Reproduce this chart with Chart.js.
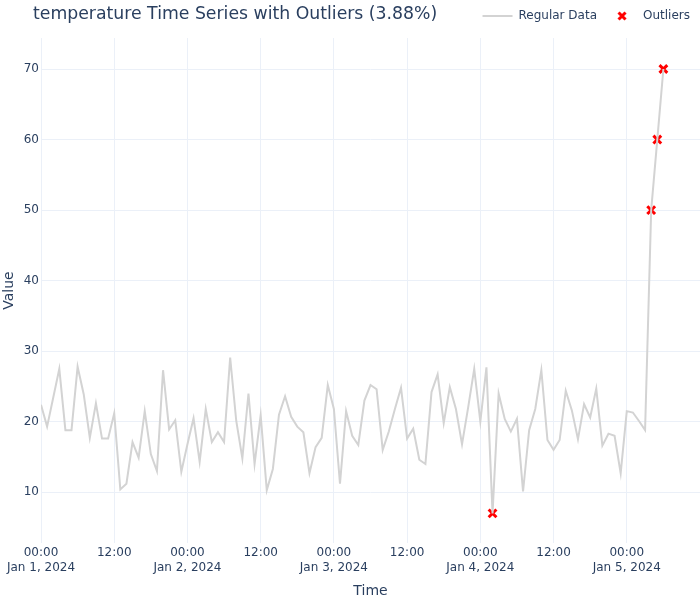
<!DOCTYPE html>
<html>
<head>
<meta charset="utf-8">
<script src="https://cdn.jsdelivr.net/npm/chart.js@4.4.1/dist/chart.umd.min.js"></script>
<style>
  body { margin: 0; background: #fff; }
  canvas { display: block; }
</style>
</head>
<body>
<canvas id="myChart" width="700" height="600"></canvas>
<script>
// hourly readings starting Jan 1, 2024 00:00
const titleText = 'temperature Time Series with Outliers (3.88%)';
const temperature = [
  22.4, 19.3, 23.4, 27.5, 18.8, 18.8, 27.8, 23.9, 17.7, 22.6, 17.6, 17.6,
  21.2, 10.4, 11.2, 17.1, 14.9, 21.5, 15.4, 13.0, 27.3, 18.9, 20.2, 12.9,
  16.8, 20.5, 14.3, 21.8, 17.1, 18.5, 17.1, 29.1, 20.1, 14.8, 24.0, 14.0,
  20.9, 10.3, 13.3, 21.0, 23.6, 20.7, 19.3, 18.5, 12.7, 16.4, 17.7, 25.2,
  21.8, 11.2, 21.5, 18.0, 16.7, 23.0, 25.2, 24.6, 16.0, 18.6, 21.8, 24.8,
  17.6, 19.0, 14.6, 14.0, 24.2, 26.7, 19.8, 24.9, 21.8, 16.8, 22.0, 27.5,
  20.0, 27.7, 7.0, 24.0, 20.4, 18.6, 20.4, 10.1, 18.8, 21.8, 27.3, 17.4,
  16.0, 17.4, 24.4, 21.6, 17.5, 22.5, 20.6, 24.7, 16.6, 18.3, 18.0, 12.7,
  21.5, 21.3, 20.1, 18.8, 50, 60, 70
];
const outlierHours = [74, 100, 101, 102];
const outlierValues = [7, 50, 60, 70];

const xTickHours = [0, 12, 24, 36, 48, 60, 72, 84, 96];
const xTickLabels = [
  ['00:00', 'Jan 1, 2024'], '12:00',
  ['00:00', 'Jan 2, 2024'], '12:00',
  ['00:00', 'Jan 3, 2024'], '12:00',
  ['00:00', 'Jan 4, 2024'], '12:00',
  ['00:00', 'Jan 5, 2024']
];
const yTicks = [10, 20, 30, 40, 50, 60, 70];

const textColor = '#2a3f5f';
const gridColor = '#ebf0f8';
const fontFamily = '"DejaVu Sans", Verdana, sans-serif';

Chart.defaults.font.family = fontFamily;
Chart.defaults.color = textColor;

// legend symbol for the outliers
function crossImage(w, h, size, lw) {
  const c = document.createElement('canvas');
  c.width = w; c.height = h;
  const g = c.getContext('2d');
  const cx = w / 2, cy = h / 2, r = size / 2;
  g.strokeStyle = 'red';
  g.lineWidth = lw;
  g.beginPath();
  g.moveTo(cx - r, cy - r); g.lineTo(cx + r, cy + r);
  g.moveTo(cx + r, cy - r); g.lineTo(cx - r, cy + r);
  g.stroke();
  return c;
}
const crossIcon = crossImage(30, 14, 7, 3);

const titlePlugin = {
  id: 'plotTitle',
  beforeUpdate(chart) {
    // push the plot area a bit lower than the legend alone would
    const lg = chart.legend;
    if (lg && !lg._extra) {
      const fit = lg.fit;
      lg.fit = function () { fit.call(this); this.height += 6; };
      lg._extra = true;
    }
  },
  afterDraw(chart) {
    const c = chart.ctx;
    c.save();
    c.font = '17.3px ' + fontFamily;
    c.fillStyle = textColor;
    c.textBaseline = 'middle';
    c.textAlign = 'left';
    c.fillText(titleText, 33, 15);
    c.restore();
  }
};

const ctx = document.getElementById('myChart').getContext('2d');
const chart = new Chart(ctx, {
  type: 'scatter',
  data: {
    datasets: [{
      label: 'Regular Data',
      data: temperature.map((v, i) => ({ x: i, y: v })),
      showLine: true,
      borderColor: '#d3d3d3',
      backgroundColor: '#d3d3d3',
      borderWidth: 2,
      pointRadius: 0,
      pointHoverRadius: 0,
      tension: 0
    }, {
      label: 'Outliers',
      data: outlierHours.map((h, i) => ({ x: h, y: outlierValues[i] })),
      showLine: false,
      pointStyle: 'crossRot',
      pointRadius: 5.5,
      borderColor: 'red',
      backgroundColor: 'red',
      borderWidth: 3
    }]
  },
  options: {
    responsive: false,
    animation: false,
    layout: { padding: 0, autoPadding: false },
    plugins: {
      title: { display: false },
      tooltip: { enabled: false },
      legend: {
        display: true,
        position: 'top',
        align: 'end',
        labels: {
          usePointStyle: true,
          pointStyleWidth: 30,
          padding: 10,
          color: textColor,
          font: { size: 12 },
          generateLabels() {
            return [{
              text: 'Regular Data', pointStyle: 'line', strokeStyle: '#d3d3d3',
              fillStyle: '#d3d3d3', lineWidth: 2, datasetIndex: 0, fontColor: textColor
            }, {
              text: 'Outliers', pointStyle: crossIcon, strokeStyle: 'red',
              fillStyle: 'red', lineWidth: 0, datasetIndex: 1, fontColor: textColor
            }];
          }
        }
      }
    },
    scales: {
      x: {
        type: 'linear',
        min: 0,
        max: 108,
        afterBuildTicks(scale) { scale.ticks = xTickHours.map(v => ({ value: v })); },
        afterFit(scale) {
          scale.height = 57;
          scale.paddingLeft = 0;
          scale.paddingRight = 0;
        },
        grid: { color: gridColor, drawTicks: false },
        border: { display: false },
        ticks: {
          padding: 3,
          maxRotation: 0,
          autoSkip: false,
          font: { size: 12 },
          callback(value) {
            const i = xTickHours.indexOf(value);
            return i >= 0 ? xTickLabels[i] : '';
          }
        },
        title: { display: true, text: 'Time', font: { size: 14 }, padding: 0 }
      },
      y: {
        min: 2.8,
        max: 74.4,
        afterBuildTicks(scale) { scale.ticks = yTicks.map(v => ({ value: v })); },
        afterFit(scale) { scale.width = 41; },
        grid: { color: gridColor, drawTicks: false },
        border: { display: false },
        ticks: { padding: 2, font: { size: 12 } },
        title: { display: true, text: 'Value', font: { size: 14 }, padding: { top: 1, bottom: 0 } }
      }
    }
  },
  plugins: [titlePlugin]
});
</script>
</body>
</html>
